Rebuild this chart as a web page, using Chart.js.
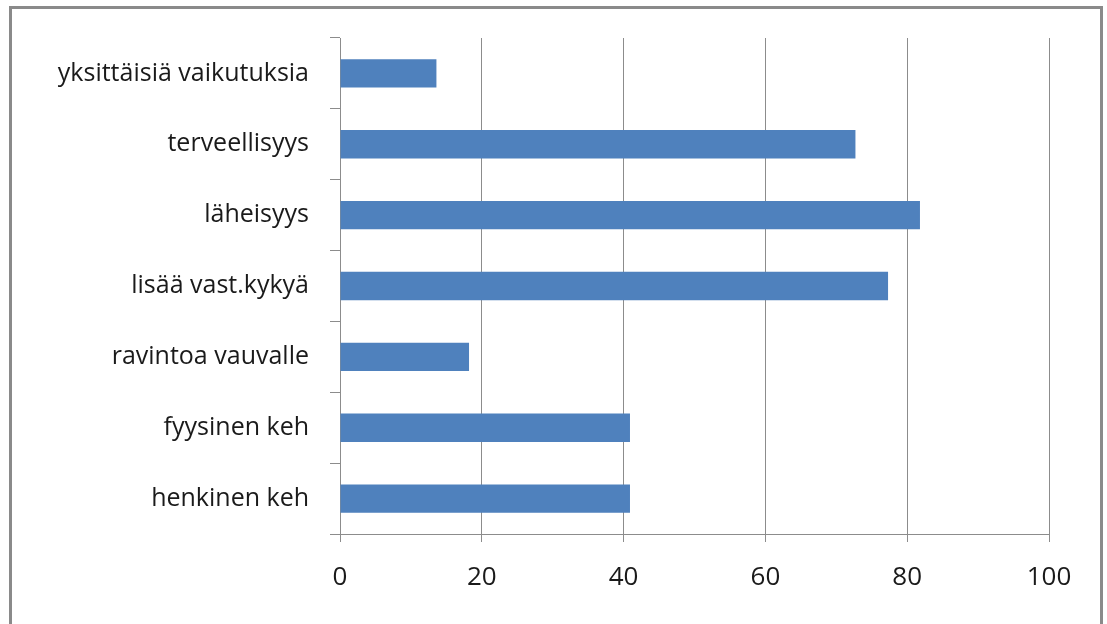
<!DOCTYPE html>
<html>
<head>
<meta charset="utf-8">
<script src="https://cdn.jsdelivr.net/npm/chart.js@4"></script>
<style>
  html, body { margin: 0; padding: 0; background: #fff; }
  #wrap { position: relative; width: 1107px; height: 624px; overflow: hidden; }
  #frame { position: absolute; left: 9px; top: 6px; width: 1094px; height: 640px; border: 3px solid #8a8a8a; box-sizing: border-box; }
  canvas { position: absolute; left: 0; top: 0; }
</style>
</head>
<body>
<div id="wrap">
  <div id="frame"></div>
  <canvas id="c" width="1107" height="624"></canvas>
</div>
<script>
const categories = ["yksittäisiä vaikutuksia", "terveellisyys", "läheisyys", "lisää vast.kykyä", "ravintoa vauvalle", "fyysinen keh", "henkinen keh"];
const values = [13.6, 72.7, 81.8, 77.3, 18.2, 40.9, 40.9];
const xTicks = [0, 20, 40, 60, 80, 100];

const FONT = "'Open Sans', Lato, sans-serif";
const GRID = '#8c8c8c';

new Chart(document.getElementById('c'), {
  type: 'bar',
  data: {
    labels: categories,
    datasets: [{
      data: values,
      backgroundColor: '#4f81bd',
      borderWidth: 0,
      categoryPercentage: 1.0,
      barPercentage: 0.4
    }]
  },
  options: {
    indexAxis: 'y',
    responsive: false,
    animation: false,
    devicePixelRatio: 1,
    layout: { padding: { top: 38, right: 58, left: 0, bottom: 0 } },
    plugins: { legend: { display: false }, tooltip: { enabled: false } },
    scales: {
      x: {
        min: 0, max: 100,
        afterBuildTicks: (s) => { s.ticks = xTicks.map(v => ({ value: v })); },
        afterFit: (s) => { s.height = 90; },
        grid: { color: GRID, lineWidth: 1, tickLength: 8, drawOnChartArea: true },
        border: { color: GRID, width: 1 },
        ticks: { color: '#1a1a1a', font: { family: FONT, size: 26 }, padding: 20 }
      },
      y: {
        afterFit: (s) => { s.width = 340; },
        grid: { color: GRID, lineWidth: 1, tickLength: 10, drawOnChartArea: false, offset: true },
        border: { color: GRID, width: 1 },
        ticks: { color: '#1a1a1a', font: { family: FONT, size: 25 }, padding: 21 }
      }
    }
  }
});
</script>
</body>
</html>
